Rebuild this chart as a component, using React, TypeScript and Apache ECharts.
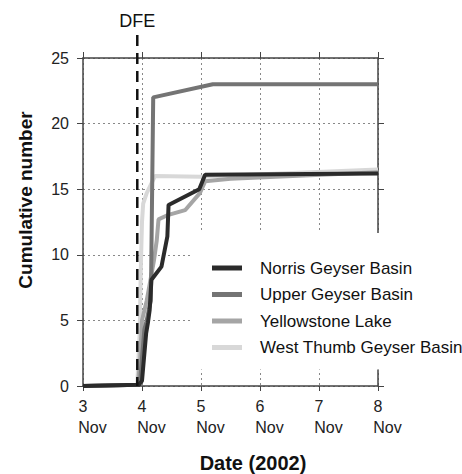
import React, { useEffect, useRef } from "react";
import * as echarts from "echarts";

const FONT = '"Liberation Sans", Arial, Helvetica, sans-serif';

const seriesNames = [
  "Norris Geyser Basin",
  "Upper Geyser Basin",
  "Yellowstone Lake",
  "West Thumb Geyser Basin",
];
const seriesColors = ["#2b2b2b", "#747474", "#a5a5a5", "#d8d8d8"];

const norris: number[][] = [
  [3, 0], [3.95, 0.1], [4.0, 0.4], [4.07, 4.0], [4.1, 4.8], [4.13, 5.8],
  [4.16, 8.1], [4.33, 9.1], [4.43, 11.4], [4.45, 13.8], [4.97, 15.0],
  [5.07, 16.1], [8, 16.2],
];
const upper: number[][] = [
  [3, 0], [3.93, 0.1], [3.97, 0.5], [4.04, 4.3], [4.08, 5.0], [4.12, 5.9],
  [4.15, 6.5], [4.19, 22.0], [5.2, 23.0], [8, 23.0],
];
const yellowstone: number[][] = [
  [3, 0], [3.93, 0.1], [3.97, 2.0], [4.0, 5.0], [4.08, 6.5], [4.14, 8.0],
  [4.2, 9.5], [4.25, 11.1], [4.28, 12.7], [4.42, 13.0], [4.73, 13.4],
  [4.98, 14.7], [5.07, 15.6], [5.5, 15.8], [8, 16.3],
];
const westThumb: number[][] = [
  [3, 0], [3.92, 0.1], [3.96, 4.0], [3.98, 9.0], [4.0, 12.5], [4.02, 13.9],
  [4.08, 14.7], [4.22, 16.0], [5.0, 15.95], [8, 16.5],
];

const xMin = 3, xMax = 8, xInterval = 1;
const yMin = 0, yMax = 25, yInterval = 5;
const monthLabel = "Nov";
const dfeDay = 3.92;
const dfeLabel = "DFE";
const xTitle = "Date (2002)";
const yTitle = "Cumulative number";

export default function App() {
  const ref = useRef<HTMLDivElement>(null);
  useEffect(() => {
    if (!ref.current) return;
    const chart = echarts.init(ref.current, null, { renderer: "svg" });
    const axisLine = { show: true, onZero: false, lineStyle: { color: "#444", width: 1.5 } };
    const gridLine = { show: true, lineStyle: { color: "#888", width: 1, type: [2, 3] as any } };
    const data = [norris, upper, yellowstone, westThumb];
    const drawOrder = [3, 2, 1, 0];
    chart.setOption({
      animation: false,
      backgroundColor: "#fff",
      textStyle: { fontFamily: FONT },
      grid: { left: 83, right: 84, top: 58, bottom: 88 },
      xAxis: [
        {
          type: "value", min: xMin, max: xMax, interval: xInterval, position: "bottom",
          axisLine, axisTick: { show: true, length: 5, lineStyle: { color: "#444" } },
          splitLine: gridLine,
          axisLabel: {
            margin: 10, align: "center", color: "#222",
            formatter: (v: number) => `{d|${v}}\n{n|${monthLabel}}`,
            rich: {
              d: { fontSize: 16, lineHeight: 21, align: "center", color: "#222", fontFamily: FONT },
              n: { fontSize: 16, lineHeight: 21, align: "center", color: "#222", fontFamily: FONT, padding: [0, 0, 0, 19] },
            },
          },
        },
        {
          type: "value", min: xMin, max: xMax, interval: xInterval, position: "top",
          axisLine, axisTick: { show: true, length: 6, lineStyle: { color: "#444" } },
          axisLabel: { show: false }, splitLine: { show: false },
        },
      ],
      yAxis: [
        {
          type: "value", min: yMin, max: yMax, interval: yInterval, position: "left",
          axisLine, axisTick: { show: true, length: 6, lineStyle: { color: "#444" } },
          splitLine: gridLine,
          axisLabel: { margin: 14, fontSize: 16, color: "#222", fontFamily: FONT },
        },
        {
          type: "value", min: yMin, max: yMax, interval: yInterval, position: "right",
          axisLine, axisTick: { show: true, length: 6, lineStyle: { color: "#444" } },
          axisLabel: { show: false }, splitLine: { show: false },
        },
      ],
      legend: {
        orient: "vertical", left: 192, top: 233, backgroundColor: "#fff",
        padding: [25, 0, 12, 20], itemWidth: 30, itemHeight: 5, itemGap: 6.5,
        icon: "rect", selectedMode: false,
        textStyle: { fontSize: 17, lineHeight: 20, color: "#111", fontFamily: FONT, padding: [0, 0, 0, 13] },
        data: seriesNames,
      },
      series: drawOrder.map((i) => ({
        type: "line", name: seriesNames[i], data: data[i], showSymbol: false,
        color: seriesColors[i], lineStyle: { width: 4, color: seriesColors[i] },
        silent: true, clip: true,
      })),
    });
    const px = chart.convertToPixel({ xAxisIndex: 0 }, dfeDay) as number;
    const py0 = chart.convertToPixel({ yAxisIndex: 0 }, yMin) as number;
    chart.setOption({
      graphic: [
        {
          type: "line", z: 5, silent: true,
          shape: { x1: px, y1: 35, x2: px, y2: py0 },
          style: { stroke: "#111", lineWidth: 2.5, lineDash: [11, 7] },
        },
        {
          type: "text", x: px, y: 21,
          style: { text: dfeLabel, font: `18px ${FONT}`, fill: "#111", align: "center", verticalAlign: "middle" },
        },
        {
          type: "text", x: 25, y: 200, rotation: Math.PI / 2,
          style: { text: yTitle, font: `bold 19px ${FONT}`, fill: "#111", align: "center", verticalAlign: "middle" },
        },
        {
          type: "text", x: 253, y: 463,
          style: { text: xTitle, font: `bold 20px ${FONT}`, fill: "#111", align: "center", verticalAlign: "middle" },
        },
      ],
    });
    return () => chart.dispose();
  }, []);
  return <div ref={ref} style={{ width: 462, height: 474, position: "absolute", left: 0, top: 0 }} />;
}
